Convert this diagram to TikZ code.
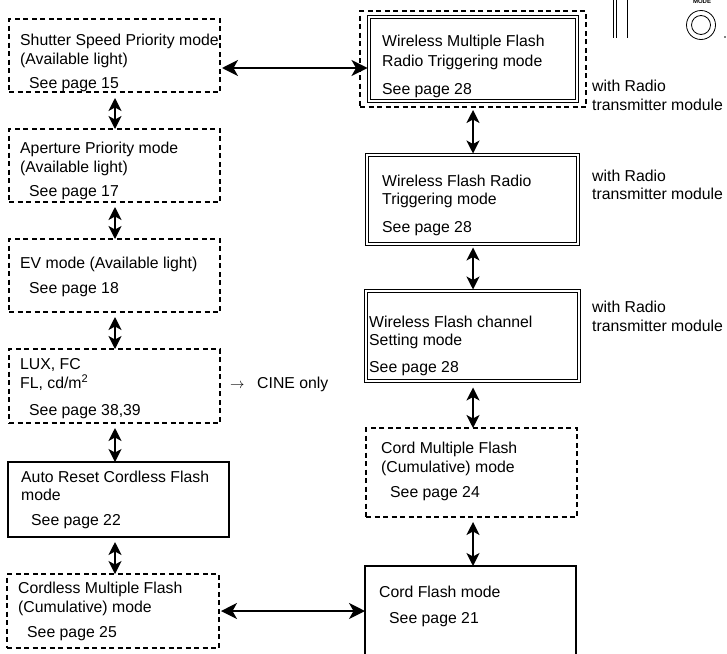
\documentclass[tikz,border=0pt]{standalone}
\usepackage{fontspec}
\setmainfont{Liberation Sans}
\usetikzlibrary{arrows.meta}
\begin{document}
\begin{tikzpicture}[x=1pt,y=-1pt,
  boxbase/.style={anchor=north west, inner sep=0pt, outer sep=0pt, line width=1.1pt},
  dbox/.style={boxbase, draw, dash pattern=on 5pt off 3.5pt},
  sbox/.style={boxbase, draw},
  dblbox/.style={anchor=north west, inner sep=0pt, outer sep=0pt, draw, line width=1pt},
  inrect/.style={line width=1pt},
  lbl/.style={anchor=base west, inner sep=0pt, font=\fontsize{15.8}{19}\selectfont},
  arr/.style={line width=1.4pt, {Stealth[length=13pt,width=13pt,inset=3.5pt]}-{Stealth[length=13pt,width=13pt,inset=3.5pt]}},
  harr/.style={line width=1.4pt, {Stealth[length=16pt,width=16pt,inset=4.5pt]}-{Stealth[length=16pt,width=16pt,inset=4.5pt]}},
  devline/.style={line width=0.8pt}
]
\useasboundingbox (0,0) rectangle (727,653);
\clip (0,0) rectangle (727,653);

% device fragment top right
\draw[devline] (613,0) -- (613,38);
\draw[devline] (616,0) -- (616,38);
\draw[devline] (627.5,0) -- (627.5,38);
\node[draw, circle, line width=0.8pt, minimum size=29pt, inner sep=0pt] (modeo) at (701,25) {};
\node[draw, circle, line width=0.8pt, minimum size=19pt, inner sep=0pt] (modei) at (701,25) {};
\node[anchor=base, inner sep=0pt, font=\fontsize{6}{7}\selectfont\bfseries] (modet) at (702,3.5) {MODE};
\fill (725,37) circle (0.8pt);

% left column
\node[dbox, minimum width=211pt, minimum height=73pt] (b1) at (9,19) {};
\node[dbox, minimum width=211pt, minimum height=73pt] (b2) at (9,129) {};
\node[dbox, minimum width=211pt, minimum height=73pt] (b3) at (9,239) {};
\node[dbox, minimum width=211pt, minimum height=74pt] (b4) at (9,349) {};
\node[sbox, minimum width=221pt, minimum height=75pt] (b5) at (8,462) {};
\node[dbox, minimum width=212pt, minimum height=74pt] (b6) at (7,574) {};

\node[lbl] (t1a) at (20,45) {Shutter Speed Priority mode};
\node[lbl] (t1b) at (20,64) {(Available light)};
\node[lbl] (t1c) at (29,88) {See page 15};

\node[lbl] (t2a) at (20,153) {Aperture Priority mode};
\node[lbl] (t2b) at (20,172) {(Available light)};
\node[lbl] (t2c) at (29,196) {See page 17};

\node[lbl] (t3a) at (20,268) {EV mode (Available light)};
\node[lbl] (t3c) at (29,293) {See page 18};

\node[lbl] (t4a) at (20,369) {LUX, FC};
\node[lbl] (t4b) at (20,388) {FL, cd/m\textsuperscript{2}};
\node[lbl] (t4c) at (29,415) {See page 38,39};

\node[lbl] (t5a) at (21,482) {Auto Reset Cordless Flash};
\node[lbl] (t5b) at (21,500) {mode};
\node[lbl] (t5c) at (31,525) {See page 22};

\node[lbl] (t6a) at (18,593) {Cordless Multiple Flash};
\node[lbl] (t6b) at (18,612) {(Cumulative) mode};
\node[lbl] (t6c) at (27,637) {See page 25};

\node[anchor=base west, inner sep=0pt, font=\fontsize{15}{16}\selectfont] (cinearr) at (230,388) {$\rightarrow$};
\node[lbl] (cine) at (257,388) {CINE only};

% right column
\node[dbox, minimum width=226pt, minimum height=96pt] (r1out) at (360,11) {};
\node[dblbox, minimum width=211pt, minimum height=87pt] (r1) at (367.5,15.5) {};
\node[dblbox, minimum width=214pt, minimum height=92pt] (r2) at (365.5,153.5) {};
\node[dblbox, minimum width=216pt, minimum height=93pt] (r3) at (364.5,289.5) {};
\foreach \r in {r1,r2,r3}{
  \draw[inrect] ([xshift=3.2pt,yshift=-3.2pt]\r.north west) rectangle ([xshift=-3.2pt,yshift=3.2pt]\r.south east);
}
\node[dbox, minimum width=211pt, minimum height=89pt] (r4) at (366,428) {};
\node[sbox, minimum width=211pt, minimum height=120pt] (r5) at (365,566) {};

\node[lbl] (s1a) at (382,46) {Wireless Multiple Flash};
\node[lbl] (s1b) at (382,66) {Radio Triggering mode};
\node[lbl] (s1c) at (382,94) {See page 28};

\node[lbl] (s2a) at (382,186) {Wireless Flash Radio};
\node[lbl] (s2b) at (382,204) {Triggering mode};
\node[lbl] (s2c) at (382,232) {See page 28};

\node[lbl] (s3a) at (369,327) {Wireless Flash channel};
\node[lbl] (s3b) at (369,345) {Setting mode};
\node[lbl] (s3c) at (369,372) {See page 28};

\node[lbl] (s4a) at (381,453) {Cord Multiple Flash};
\node[lbl] (s4b) at (381,472) {(Cumulative) mode};
\node[lbl] (s4c) at (390,497) {See page 24};

\node[lbl] (s5a) at (379,597) {Cord Flash mode};
\node[lbl] (s5c) at (389,623) {See page 21};

\node[lbl] (w1a) at (592,91) {with Radio};
\node[lbl] (w1b) at (592,110) {transmitter module};
\node[lbl] (w2a) at (592,181) {with Radio};
\node[lbl] (w2b) at (592,199) {transmitter module};
\node[lbl] (w3a) at (592,312) {with Radio};
\node[lbl] (w3b) at (592,331) {transmitter module};

% connectors
\coordinate (lx) at (115,0);
\coordinate (rx) at (473,0);
\draw[arr] ([yshift=-6pt]lx |- b1.south) -- (lx |- b2.north);
\draw[arr] ([yshift=-5pt]lx |- b2.south) -- (lx |- b3.north);
\draw[arr] ([yshift=-5pt]lx |- b3.south) -- (lx |- b4.north);
\draw[arr] ([yshift=-5pt]lx |- b4.south) -- (lx |- b5.north);
\draw[arr] ([yshift=-5pt]lx |- b5.south) -- (lx |- b6.north);

\draw[arr] ([yshift=-3pt]rx |- r1out.south) -- (rx |- r2.north);
\draw[arr] ([yshift=-2pt]rx |- r2.south) -- (rx |- r3.north);
\draw[arr] ([yshift=-5pt]rx |- r3.south) -- (rx |- r4.north);
\draw[arr] ([yshift=-5pt]rx |- r4.south) -- (rx |- r5.north);

\coordinate (ya) at (0,68);
\draw[harr] ([xshift=2pt]b1.east |- ya) -- (r1.west |- ya);
\draw[harr] ([xshift=2pt]b6.east) -- (r5.west |- b6.east);
\end{tikzpicture}
\end{document}
